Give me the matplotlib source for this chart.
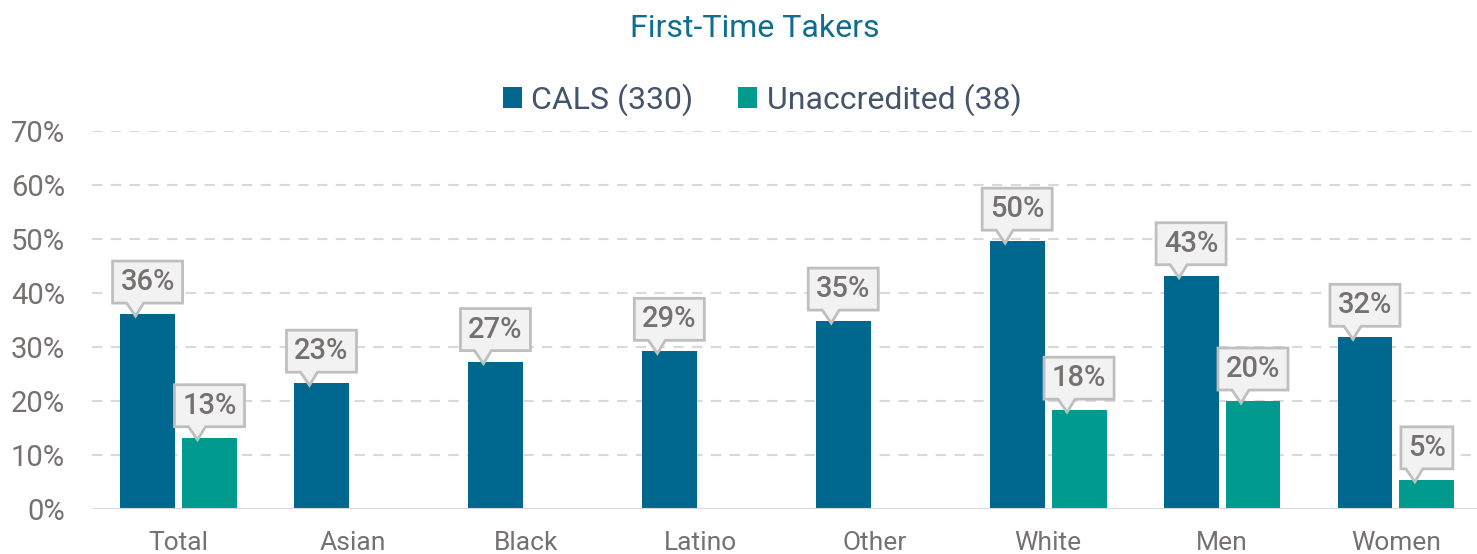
import numpy as np
import matplotlib.pyplot as plt
from matplotlib.patches import Polygon
from matplotlib.transforms import Affine2D, ScaledTranslation

plt.rcParams['font.family'] = ['Roboto', 'DejaVu Sans']

categories = ["Total", "Asian", "Black", "Latino", "Other", "White", "Men", "Women"]
cals = [36.1, 23.3, 27.3, 29.2, 34.8, 49.6, 43.2, 31.8]
unaccredited = [13.2, None, None, None, None, 18.3, 20.0, 5.4]
cals_labels = ["36%", "23%", "27%", "29%", "35%", "50%", "43%", "32%"]
unacc_labels = ["13%", "", "", "", "", "18%", "20%", "5%"]
series_names = ["CALS (330)", "Unaccredited (38)"]
yticks = [0, 10, 20, 30, 40, 50, 60, 70]

c_cals = "#00688E"
c_unacc = "#009A8F"
grid_c = "#D9D9D9"
tick_c = "#767171"

fig = plt.figure(figsize=(14.77, 5.54), dpi=100)
ax = fig.add_axes([0.062, 0.0812, 0.942, 0.6823])

x = np.arange(len(categories))
w = 0.316
off = 0.178

unacc_vals = [np.nan if v is None else v for v in unaccredited]
ax.bar(x - off, cals, w, color=c_cals, label=series_names[0], zorder=3)
ax.bar(x + off, unacc_vals, w, color=c_unacc, label=series_names[1], zorder=3)

ax.set_xlim(-0.5, len(categories) - 0.5)
ax.set_ylim(0, 70)
ax.set_yticks(yticks)
ax.set_yticklabels([f"{t}%" for t in yticks])
ax.set_xticks(x)
ax.set_xticklabels(categories)
ax.tick_params(axis="y", length=0, pad=19, labelsize=21, labelcolor=tick_c)
ax.tick_params(axis="x", length=0, pad=16, labelsize=19, labelcolor=tick_c)

for t in yticks[1:]:
    ax.axhline(t, color=grid_c, lw=1.5, ls=(0, (5, 4)), zorder=1)
ax.axhline(0, color=grid_c, lw=1.5, zorder=4)
for s in ax.spines.values():
    s.set_visible(False)


def callout(xc, top, text):
    # box with a pointer, drawn in pixels relative to the bar top
    px = fig.dpi / 100.0
    n = len(text) - 1
    half = (18 * n + 34) / 2.0
    b, h = 11, 53
    pts = [(-12, -2), (-21, b), (-half, b), (-half, h), (half, h), (half, b), (-4, b)]
    tr = Affine2D().scale(px) + ScaledTranslation(xc, top, ax.transData)
    poly = Polygon(pts, closed=True, facecolor="#F2F2F2", edgecolor="#BFBFBF",
                   lw=2, transform=tr, zorder=6, clip_on=False)
    ax.add_patch(poly)
    ax.text(0, (b + h) / 2.0, text, transform=tr, ha="center", va="center",
            fontsize=21, fontweight="medium", color=tick_c, zorder=7)


for i in range(len(categories)):
    callout(x[i] - off, cals[i], cals_labels[i])
    if unaccredited[i] is not None:
        callout(x[i] + off, unaccredited[i], unacc_labels[i])

fig.text(0.511, 0.948, "First-Time Takers", ha="center", va="center",
         fontsize=23, color="#0F6E8F")

leg = fig.legend(loc="center", bbox_to_anchor=(0.516, 0.82), ncol=2, frameon=False,
                 fontsize=23, handlelength=0.6, handleheight=0.6,
                 handletextpad=0.3, columnspacing=1.4)
for t in leg.get_texts():
    t.set_color("#44546A")

fig.savefig("out.png", dpi=100)
